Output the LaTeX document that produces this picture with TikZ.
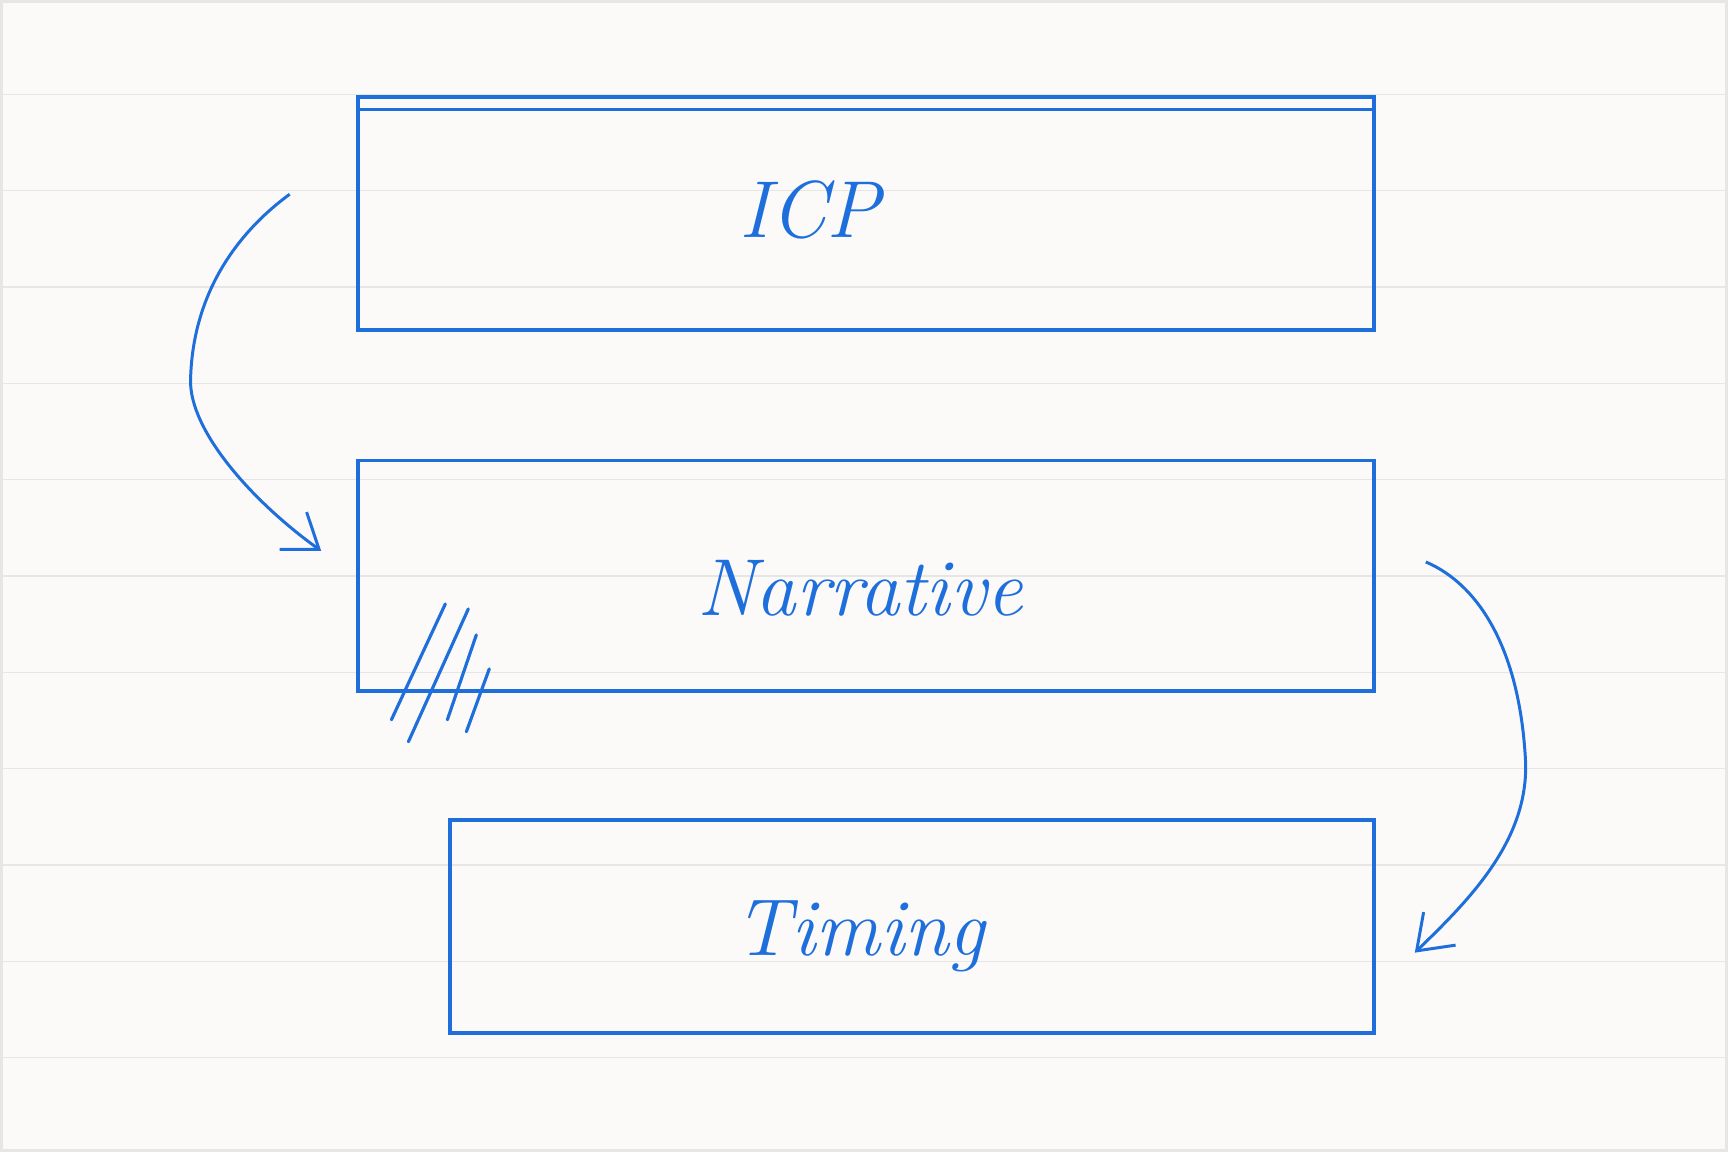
\documentclass[tikz,border=0pt]{standalone}
\usetikzlibrary{arrows.meta,positioning}
\definecolor{inkblue}{HTML}{1E6FDC}
\definecolor{paper}{HTML}{FBFAF8}
\definecolor{rule}{HTML}{E6E6E4}
\tikzset{
    box/.style={shape=rectangle,draw=inkblue,line width=1.1pt,inner sep=0pt},
    word/.style={text=inkblue,font=\fontsize{23}{28}\selectfont\itshape},
    flow/.style={draw=inkblue,line width=0.85pt,-{Straight Barb[length=3.2mm,width=4.6mm]}},
    hatch/.style={draw=inkblue,line width=0.9pt,line cap=round}
}
\begin{document}
\begin{tikzpicture}[x=0.01cm,y=-0.01cm]
    % paper
    \fill[paper] (0,0) rectangle (1728,1152);
    \foreach \k in {0,...,10}
        \draw[rule,line width=0.4pt] (0,94+96.4*\k) -- (1728,94+96.4*\k);
    \draw[rule,line width=0.8pt] (1,1) rectangle (1727,1151);
    \useasboundingbox (0,0) rectangle (1728,1152);
    % boxes
    \node[box,minimum width=10.17cm,minimum height=2.33cm] (icp) at (866,213) {};
    \node[box,minimum width=10.16cm,minimum height=2.31cm] (narrative) at (866,576) {};
    \node[box,minimum width=9.24cm,minimum height=2.13cm] (timing) at (912,927) {};
    \draw[inkblue,line width=0.9pt] ([yshift=-0.15cm]icp.north west) -- ([yshift=-0.15cm]icp.north east);
    % labels
    \node[word] (icptext) at ([xshift=-0.56cm,yshift=0.03cm]icp.center) {ICP};
    \node[word] (narrativetext) at ([xshift=-0.06cm,yshift=-0.12cm]narrative.center) {Narrative};
    \node[word] (timingtext) at ([xshift=-0.52cm,yshift=-0.1cm]timing.center) {Timing};
    % hatching
    \foreach \xa/\ya/\xb/\yb in {445/604/391/720, 468/609/408/742, 476/635/447/720, 489/669/466/732}
        \draw[hatch] (\xa,\ya) -- (\xb,\yb);
    % arrows
    \coordinate (a1) at ([xshift=-0.66cm,yshift=0.19cm]icp.west);
    \coordinate (a2) at ([xshift=-0.35cm,yshift=0.25cm]narrative.west);
    \coordinate (b1) at ([xshift=0.5cm,yshift=0.14cm]narrative.east);
    \coordinate (b2) at ([xshift=0.39cm,yshift=-0.26cm]timing.east);
    \path[flow] (a1) .. controls (240,230) and (192,290) .. (190,380)
        .. controls (189,430) and (250,500) .. (a2);
    \path[flow] (b1) .. controls (1480,585) and (1520,650) .. (1526,760)
        .. controls (1530,840) and (1470,900) .. (b2);
\end{tikzpicture}
\end{document}
